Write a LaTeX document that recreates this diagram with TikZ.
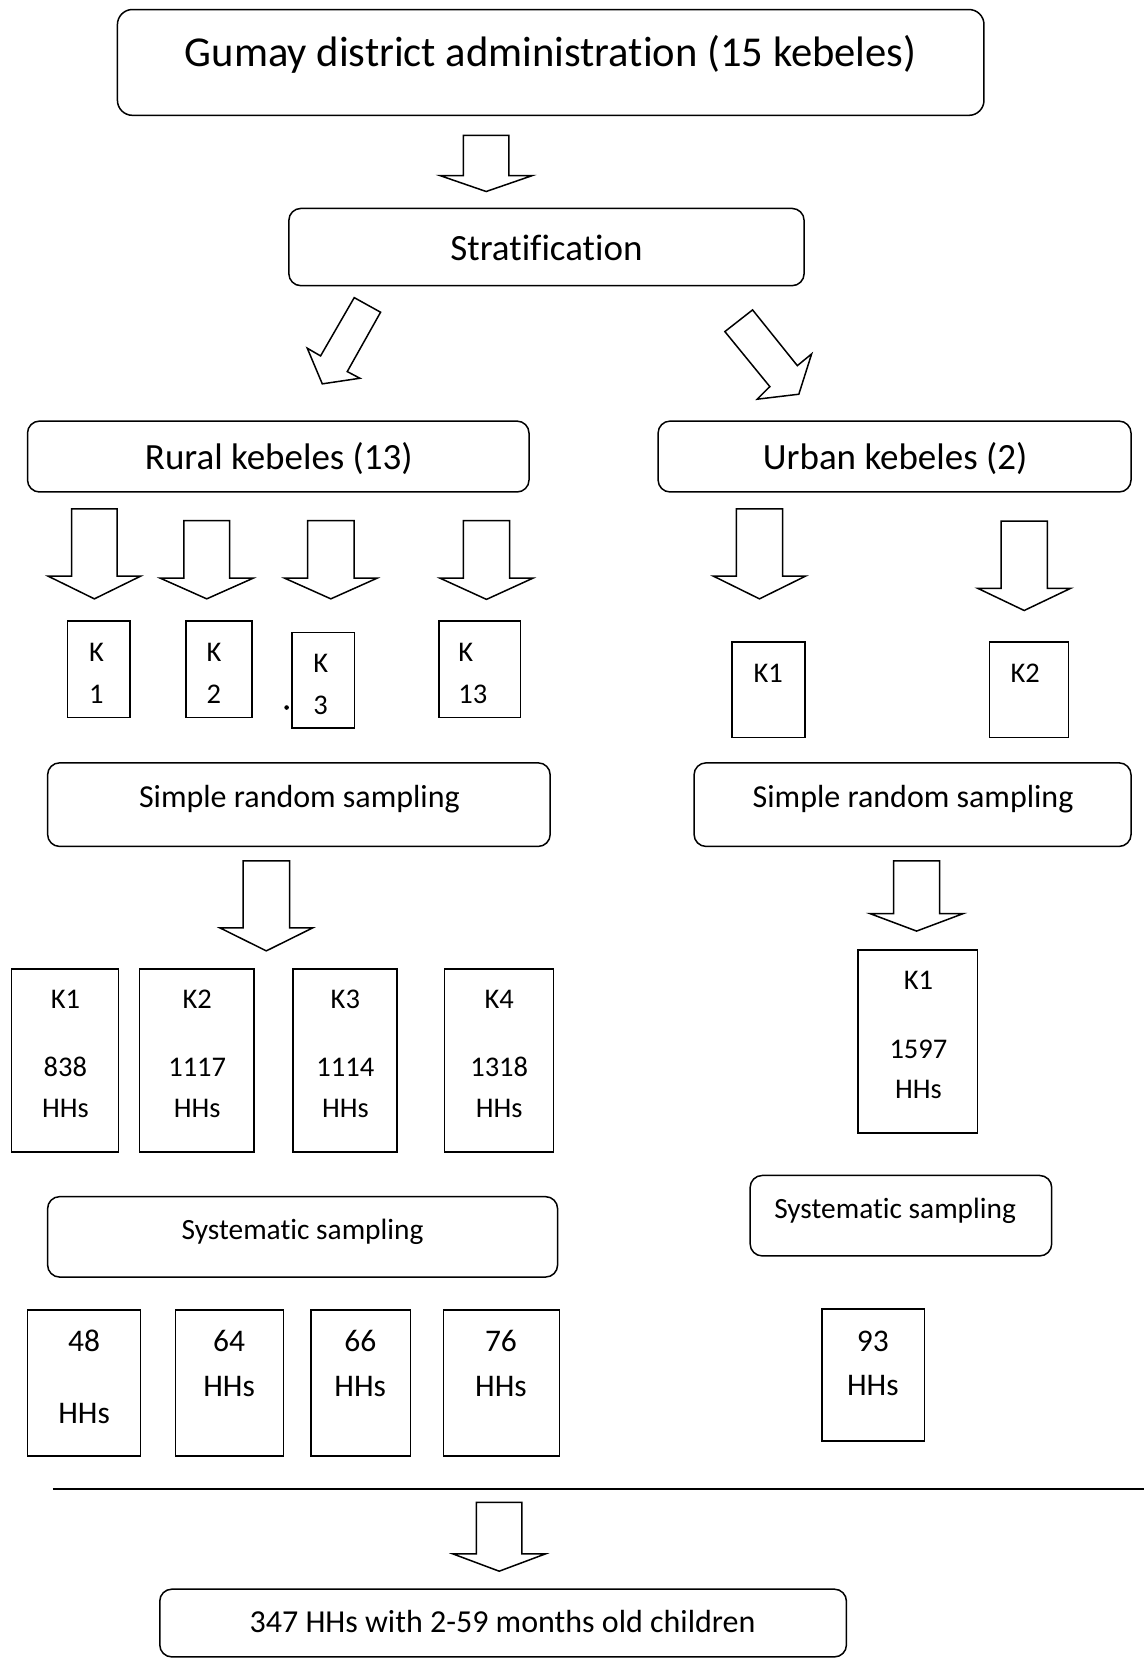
\documentclass[tikz,border=0pt]{standalone}
\usepackage{fontspec}
\setmainfont{Carlito}[Ligatures={NoCommon}]
\usetikzlibrary{fit}
\newcommand\fs[1]{\fontsize{#1}{#1}\selectfont}
\newcommand\BArrow[6]{% cx, top, shaft half width, head half width, head base y, tip y
  \draw[arr] ({#1-#3},#2) -- ({#1+#3},#2) -- ({#1+#3},#5) -- ({#1+#4},#5) -- (#1,#6) -- ({#1-#4},#5) -- ({#1-#3},#5) -- cycle;}
\tikzset{
  rbox/.style={draw, line width=1.5pt, rounded corners=12pt, inner sep=0pt},
  sbox/.style={draw, line width=1.5pt, inner sep=0pt},
  arr/.style={draw, line width=1.5pt, line join=miter, fill=white},
  txt/.style={inner sep=0pt, anchor=base},
  tbig/.style={txt, font=\fs{42.6}},
  tmid/.style={txt, font=\fs{37}},
  tsrs/.style={txt, font=\fs{32}},
  tk/.style={txt, font=\fs{28.5}},
  tkw/.style={txt, font=\fs{28.5}, anchor=base west},
  tsys/.style={txt, font=\fs{29.4}},
  tnum/.style={txt, font=\fs{31.5}},
}
\begin{document}
\begin{tikzpicture}[x=1.0583pt, y=-1.0583pt]
\useasboundingbox (0,0) rectangle (1081,1568);

% ---------- top ----------
\node[rbox, rounded corners=15pt, fit={(111,9) (930,109)}] (top) {};
\node[tbig] (topt) at (520.5,62.5) {Gumay district administration (15 kebeles)};
\BArrow{459.5}{128}{21.5}{43.5}{166}{181}

\node[rbox, fit={(273,197) (760,270)}] (strat) {};
\node[tmid] (stratt) at (516.5,246) {Stratification};

% diagonal arrows
\draw[arr] (334.8,281.3) -- (359.7,295.1) -- (328.2,351.2) -- (340.2,357.5) -- (304.6,362.8) -- (290.4,329.1) -- (303.0,336.4) -- cycle;
\draw[arr] (711.3,292.9) -- (753.6,345.6) -- (767.1,334.5) -- (755.0,372.6) -- (715.6,377.3) -- (727.6,365.4) -- (685.1,313.4) -- cycle;

\node[rbox, fit={(26,398) (500,465)}] (rural) {};
\node[tmid] (ruralt) at (263.5,444) {Rural kebeles (13)};
\node[rbox, fit={(622,398) (1069,465)}] (urban) {};
\node[tmid] (urbant) at (846,444) {Urban kebeles (2)};

% ---------- rural kebele arrows ----------
\BArrow{89.2}{481}{21.6}{43.8}{544.5}{566}
\BArrow{195.4}{492}{21.7}{43.8}{546.5}{566}
\BArrow{312.7}{492}{22}{43.6}{546.5}{566}
\BArrow{459.8}{492}{21.8}{43.8}{546.5}{566.5}

\node[sbox, fit={(64,587) (123,678)}] (rk1) {};
\node[tkw] (rk1a) at (84,625.5) {K};
\node[tkw] (rk1b) at (84,665) {1};
\node[sbox, fit={(176,587) (238,678)}] (rk2) {};
\node[tkw] (rk2a) at (195,625.5) {K};
\node[tkw] (rk2b) at (195,665) {2};
\node[sbox, fit={(276,598) (335,688)}] (rk3) {};
\node[tkw] (rk3a) at (296,635.5) {K};
\node[tkw] (rk3b) at (296,675.5) {3};
\fill (270.9,668.7) circle (2.3pt);
\node[sbox, fit={(415,587) (492,678)}] (rk13) {};
\node[tkw] (rk13a) at (433,625.5) {K};
\node[tkw] (rk13b) at (433,665) {13};

% ---------- urban kebele arrows ----------
\BArrow{717.8}{481}{21.8}{43.6}{544.5}{566}
\BArrow{968}{492.5}{21.8}{44}{556}{577}
\node[sbox, fit={(692,607) (761,697)}] (uk1) {};
\node[tk] (uk1t) at (726,645.5) {K1};
\node[sbox, fit={(935,607) (1010,697)}] (uk2) {};
\node[tk] (uk2t) at (969,645.5) {K2};

% ---------- simple random sampling ----------
\node[rbox, fit={(45,721) (520,800)}] (srsr) {};
\node[tsrs] (srsrt) at (283,763.5) {Simple random sampling};
\node[rbox, fit={(656,721) (1069,800)}] (srsu) {};
\node[tsrs] (srsut) at (863,763.5) {Simple random sampling};

\BArrow{251.7}{813.6}{22}{43.8}{877}{898.7}
\BArrow{866.3}{813.6}{21.8}{44}{863.5}{880}

% ---------- household boxes ----------
\node[sbox, fit={(11,916) (112,1089)}] (h1) {};
\node[tk] (h1a) at (61.8,953) {K1};
\node[tk] (h1b) at (61.8,1017) {838};
\node[tk] (h1c) at (61.8,1056.5) {HHs};
\node[sbox, fit={(132,916) (240,1089)}] (h2) {};
\node[tk] (h2a) at (186.4,953) {K2};
\node[tk] (h2b) at (186.4,1017) {1117};
\node[tk] (h2c) at (186.4,1056.5) {HHs};
\node[sbox, fit={(277,916) (375,1089)}] (h3) {};
\node[tk] (h3a) at (326.4,953) {K3};
\node[tk] (h3b) at (326.4,1017) {1114};
\node[tk] (h3c) at (326.4,1056.5) {HHs};
\node[sbox, fit={(420,916) (523,1089)}] (h4) {};
\node[tk] (h4a) at (471.8,953) {K4};
\node[tk] (h4b) at (471.8,1017) {1318};
\node[tk] (h4c) at (471.8,1056.5) {HHs};

\node[sbox, fit={(811,898) (924,1071)}] (uh1) {};
\node[tk] (uh1a) at (868,935.5) {K1};
\node[tk] (uh1b) at (868,1000) {1597};
\node[tk] (uh1c) at (868,1038.5) {HHs};

% ---------- systematic sampling ----------
\node[rbox, fit={(45,1131) (527,1207)}] (sysr) {};
\node[tsys] (sysrt) at (286,1171.7) {Systematic sampling};
\node[rbox, fit={(709,1111) (994,1187)}] (sysu) {};
\node[tsys] (sysut) at (846,1152) {Systematic sampling};

% ---------- sample boxes ----------
\node[sbox, fit={(26,1238) (133,1376)}] (b1) {};
\node[tnum] (b1a) at (79.5,1277.5) {48};
\node[tnum] (b1b) at (79.5,1345) {HHs};
\node[sbox, fit={(166,1238) (268,1376)}] (b2) {};
\node[tnum] (b2a) at (216.5,1277.5) {64};
\node[tnum] (b2b) at (216.5,1319.5) {HHs};
\node[sbox, fit={(294,1238) (388,1376)}] (b3) {};
\node[tnum] (b3a) at (340.5,1277.5) {66};
\node[tnum] (b3b) at (340.5,1319.5) {HHs};
\node[sbox, fit={(419,1238) (529,1376)}] (b4) {};
\node[tnum] (b4a) at (473.5,1277.5) {76};
\node[tnum] (b4b) at (473.5,1319.5) {HHs};
\node[sbox, fit={(777,1237) (874,1362)}] (b5) {};
\node[tnum] (b5a) at (825,1277) {93};
\node[tnum] (b5b) at (825,1319) {HHs};

% ---------- total ----------
\coordinate (ruleL) at (50,1407);
\coordinate (ruleR) at (1081,1407);
\draw[line width=2pt] (ruleL) -- (ruleR);
\BArrow{471.8}{1420}{21.5}{43.6}{1468.7}{1485}
\node[rbox, fit={(151,1502) (800,1566)}] (final) {};
\node[tsrs] (finalt) at (475,1542.7) {347 HHs with 2-59 months old children};
\end{tikzpicture}
\end{document}
